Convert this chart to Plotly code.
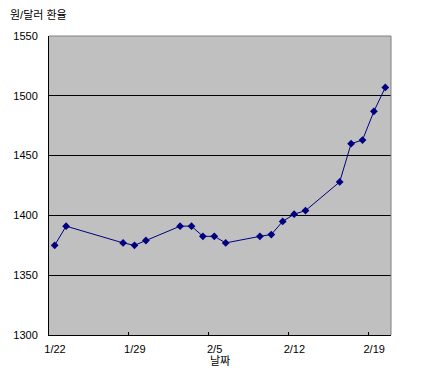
import plotly.graph_objects as go
import pandas as pd

# data
dates = ["2009-01-22", "2009-01-23", "2009-01-28", "2009-01-29", "2009-01-30",
         "2009-02-02", "2009-02-03", "2009-02-04", "2009-02-05", "2009-02-06",
         "2009-02-09", "2009-02-10", "2009-02-11", "2009-02-12", "2009-02-13",
         "2009-02-16", "2009-02-17", "2009-02-18", "2009-02-19", "2009-02-20"]
rates = [1375, 1391, 1377, 1375, 1379,
         1391, 1391, 1382.5, 1382.5, 1377,
         1382.5, 1384, 1395, 1401, 1404,
         1428, 1460, 1463, 1487, 1507]
tick_dates = ["2009-01-22", "2009-01-29", "2009-02-05", "2009-02-12", "2009-02-19"]
tick_labels = ["1/22", "1/29", "2/5", "2/12", "2/19"]
y_ticks = [1300, 1350, 1400, 1450, 1500, 1550]

FONT = "Liberation Sans, Arial, Noto Sans CJK KR, sans-serif"

x = pd.to_datetime(dates)
half = pd.Timedelta(hours=12)
tickpos = pd.to_datetime(tick_dates) - half

fig = go.Figure()
fig.add_trace(go.Scatter(
    x=x, y=rates, mode="lines+markers",
    line=dict(color="#000080", width=1),
    marker=dict(symbol="diamond", size=6, color="#000080"),
    showlegend=False,
))

fig.update_layout(
    width=426, height=374,
    margin=dict(l=49, r=35, t=36, b=39, autoexpand=False),
    paper_bgcolor="white", plot_bgcolor="#C0C0C0",
    font=dict(family=FONT, size=11, color="black"),
    title=dict(text="원/달러 환율", x=10/426, xanchor="left", xref="container",
               y=1-15/374, yanchor="middle", yref="container",
               font=dict(family=FONT, size=11, color="black")),
    xaxis=dict(
        type="date",
        range=[pd.Timestamp("2009-01-22") - half, pd.Timestamp("2009-02-20") + half],
        tickvals=tickpos, ticktext=tick_labels,
        ticks="inside", ticklen=3, tickcolor="black",
        ticklabelshift=6, ticklabelstandoff=4,
        showgrid=False, showline=True, linecolor="black", linewidth=1,
        title=dict(text="날짜", standoff=2, font=dict(size=11)),
        automargin=False,
    ),
    yaxis=dict(
        range=[1300, 1550], tickvals=y_ticks,
        ticks="", ticklabelstandoff=8,
        showgrid=True, gridcolor="black", gridwidth=1,
        zeroline=False,
        showline=True, linecolor="black", linewidth=1,
        automargin=False,
    ),
    shapes=[dict(type="path", xref="paper", yref="paper",
                 path="M 0 1 L 1 1 L 1 0", line=dict(color="#808080", width=1),
                 layer="above")],
)

fig.write_html("out.html",
               config={"displayModeBar": False},
               post_script="document.body.style.margin='0';document.body.style.padding='0';")
